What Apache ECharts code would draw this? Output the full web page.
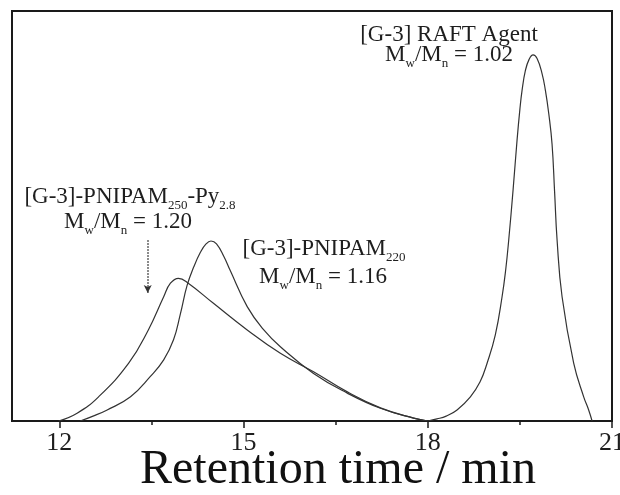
<!DOCTYPE html>
<html>
<head>
<meta charset="utf-8">
<script src="https://cdn.jsdelivr.net/npm/echarts@6/dist/echarts.min.js"></script>
<style>html,body{margin:0;padding:0;background:#fff;}#c{width:620px;height:495px;}</style>
</head>
<body>
<div id="c"></div>
<script>
// Retention time (min) and normalized detector response
const raftX = [18.0, 18.15, 18.3, 18.477, 18.694, 18.85, 18.966, 19.1, 19.21, 19.27, 19.318, 19.39, 19.454, 19.50, 19.536, 19.59, 19.65, 19.715, 19.78, 19.86, 19.915, 19.97, 20.024, 20.065, 20.106, 20.187, 20.376, 20.539, 20.62, 20.676];
const raftY = [0, 0.005, 0.012, 0.027, 0.059, 0.095, 0.141, 0.21, 0.303, 0.37, 0.441, 0.565, 0.685, 0.76, 0.807, 0.855, 0.882, 0.893, 0.884, 0.848, 0.807, 0.75, 0.675, 0.56, 0.441, 0.303, 0.141, 0.059, 0.027, 0];

const p220X = [12.34, 12.55, 12.78, 13.16, 13.48, 13.70, 13.86, 13.97, 14.08, 14.19, 14.30, 14.39, 14.47, 14.56, 14.68, 14.78, 15.06, 15.33, 15.60, 16.14, 16.69, 17.23, 17.77, 18.0];
const p220Y = [0, 0.012, 0.027, 0.059, 0.108, 0.149, 0.198, 0.26, 0.33, 0.376, 0.412, 0.432, 0.439, 0.432, 0.401, 0.368, 0.279, 0.222, 0.181, 0.116, 0.068, 0.031, 0.007, 0];

const pPyX = [11.99, 12.29, 12.64, 13.13, 13.45, 13.70, 13.81, 13.94, 14.10, 14.51, 15.06, 15.60, 16.14, 16.69, 17.23, 17.77, 18.0];
const pPyY = [0, 0.019, 0.059, 0.141, 0.222, 0.303, 0.336, 0.348, 0.336, 0.287, 0.222, 0.165, 0.12, 0.071, 0.032, 0.007, 0];

const tickValues = [12, 15, 18, 21];
const minorTickValues = [13.5, 16.5, 19.5];
const arrowX = 13.44, arrowTop = 0.441, arrowBottom = 0.312;

const FONT = 'Liberation Serif';
const TXT = '#1e1e1e';
const LINE = '#333';

const zip = (xs, ys) => xs.map((x, i) => [x, ys[i]]);

function ann(str, cx, baseline) {
  return {
    type: 'text', x: cx, y: baseline - 19.8, silent: true,
    style: {
      text: str, align: 'center', verticalAlign: 'top', fill: TXT,
      rich: {
        n: { fontSize: 23, fontFamily: FONT, lineHeight: 24, verticalAlign: 'top', color: TXT },
        s: { fontSize: 13, fontFamily: FONT, lineHeight: 13, padding: [14, 0, 0, 0], verticalAlign: 'top', color: TXT }
      }
    }
  };
}

const lineSeries = (xs, ys) => ({
  type: 'line', data: zip(xs, ys), smooth: 0.45, showSymbol: false,
  lineStyle: { color: LINE, width: 1.2 }
});

const chart = echarts.init(document.getElementById('c'), null, { renderer: 'canvas' });
const pySeries = lineSeries(pPyX, pPyY);
pySeries.markLine = {
  silent: true, symbol: ['none', 'arrow'], symbolSize: [6, 8],
  label: { show: false },
  lineStyle: { type: 'dotted', color: LINE, width: 1.5 },
  data: [[{ coord: [arrowX, arrowTop] }, { coord: [arrowX, arrowBottom] }]]
};
chart.setOption({
  animation: false,
  backgroundColor: '#fff',
  grid: { left: 12, right: 8, top: 11, bottom: 74, outerBoundsMode: 'none', containLabel: false, show: true, borderColor: '#1a1a1a', borderWidth: 2, backgroundColor: 'transparent' },
  xAxis: [{
    type: 'value', min: 11.23, max: 21,
    splitLine: { show: false },
    axisLine: { show: true, lineStyle: { color: '#1a1a1a', width: 2 } },
    axisTick: { show: true, inside: false, length: 7, customValues: tickValues, lineStyle: { color: '#1a1a1a', width: 1.5 } },
    axisLabel: { show: true, customValues: tickValues, fontSize: 26, fontFamily: FONT, color: TXT, margin: 9 }
  }, {
    type: 'value', min: 11.23, max: 21, position: 'bottom',
    splitLine: { show: false },
    axisLine: { show: false },
    axisTick: { show: true, inside: false, length: 4, customValues: minorTickValues, lineStyle: { color: '#1a1a1a', width: 1.5 } },
    axisLabel: { show: false }
  }],
  yAxis: {
    type: 'value', min: 0, max: 1,
    axisLine: { show: false }, axisTick: { show: false }, axisLabel: { show: false }, splitLine: { show: false }
  },
  series: [
    lineSeries(raftX, raftY),
    lineSeries(p220X, p220Y),
    pySeries
  ],
  graphic: [
    ann('{n|[G-3] RAFT Agent}', 449, 43),
    ann('{n|M}{s|w}{n|/M}{s|n}{n| = 1.02}', 449, 63),
    ann('{n|[G-3]-PNIPAM}{s|250}{n|-Py}{s|2.8}', 130, 205),
    ann('{n|M}{s|w}{n|/M}{s|n}{n| = 1.20}', 128, 230),
    ann('{n|[G-3]-PNIPAM}{s|220}', 324, 257),
    ann('{n|M}{s|w}{n|/M}{s|n}{n| = 1.16}', 323, 285),
    {
      type: 'text', x: 338, y: 470.8, silent: true,
      style: { text: 'Retention time / min', align: 'center', verticalAlign: 'middle', fontSize: 48, fontFamily: FONT, fill: '#111' }
    }
  ]
});
</script>
</body>
</html>
